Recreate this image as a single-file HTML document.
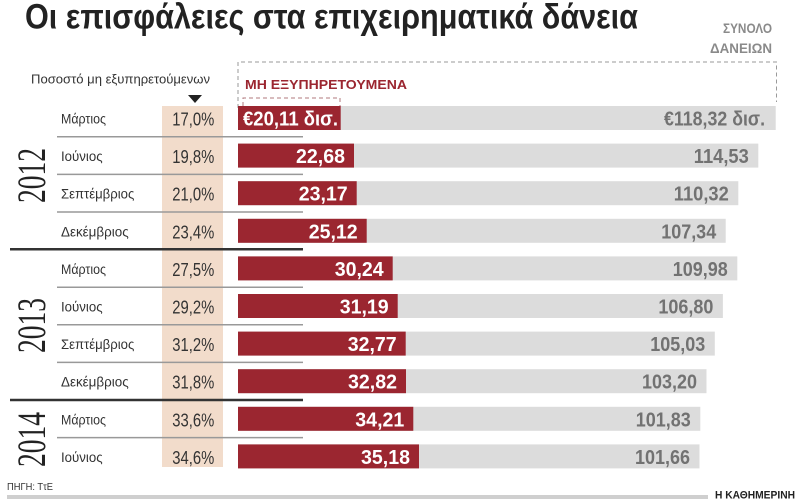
<!DOCTYPE html>
<html><head><meta charset="utf-8"><style>
html,body{margin:0;padding:0;background:#fff;}
svg{display:block;}
text{font-family:"Liberation Sans","DejaVu Sans",sans-serif;}
.m{font-size:14px;fill:#333;}
.p{font-size:18.5px;fill:#333;text-anchor:end;}
.r{font-size:20px;font-weight:bold;fill:#fff;text-anchor:end;}
.g{font-size:20px;font-weight:bold;fill:#727272;text-anchor:end;}
.y{font-family:"Liberation Serif","DejaVu Serif",serif;font-size:40px;fill:#222;text-anchor:middle;}
</style></head><body>
<svg width="800" height="499" viewBox="0 0 800 499" xmlns="http://www.w3.org/2000/svg">
<rect width="800" height="499" fill="#fff"/>
<text x="25" y="28.5" font-size="35" font-weight="bold" fill="#222" textLength="613" lengthAdjust="spacingAndGlyphs">Οι επισφάλειες στα επιχειρηματικά δάνεια</text>
<text x="772" y="33" font-size="14" font-weight="bold" fill="#8a8a8a" text-anchor="end" textLength="49" lengthAdjust="spacingAndGlyphs">ΣΥΝΟΛΟ</text>
<text x="772" y="53" font-size="14" font-weight="bold" fill="#8a8a8a" text-anchor="end" textLength="62" lengthAdjust="spacingAndGlyphs">ΔΑΝΕΙΩΝ</text>
<path d="M238,108 V62 H776.5 V102" fill="none" stroke="#9a9a9a" stroke-width="1" stroke-dasharray="4,3"/>
<path d="M243,106 V98 H340 V106" fill="none" stroke="#b07a7e" stroke-width="1" stroke-dasharray="4,3"/>
<text x="245" y="89" font-size="13" font-weight="bold" fill="#9b2630" textLength="162" lengthAdjust="spacingAndGlyphs">ΜΗ ΕΞΥΠΗΡΕΤΟΥΜΕΝΑ</text>
<text x="31" y="83.5" font-size="13" fill="#333" textLength="179" lengthAdjust="spacingAndGlyphs">Ποσοστό μη εξυπηρετούμενων</text>
<polygon points="188,95 202,95 195,103" fill="#222"/>
<rect x="162" y="106" width="61" height="361" fill="#f2dccb"/>

<g fill="#dcdcdc">
<rect x="238" y="106" width="537.7" height="24"/>
<rect x="238" y="143.6" width="520.3" height="24"/>
<rect x="238" y="181.2" width="500.3" height="24"/>
<rect x="238" y="218.8" width="487.7" height="24"/>
<rect x="238" y="256.4" width="499.3" height="24"/>
<rect x="238" y="294" width="484.9" height="24"/>
<rect x="238" y="331.6" width="476.8" height="24"/>
<rect x="238" y="369.2" width="468.5" height="24"/>
<rect x="238" y="406.8" width="462.3" height="24"/>
<rect x="238" y="444.4" width="461.5" height="24"/>
</g>
<g fill="#9b2630">
<rect x="238" y="106" width="102.7" height="24"/>
<rect x="238" y="143.6" width="116" height="24"/>
<rect x="238" y="181.2" width="118.7" height="24"/>
<rect x="238" y="218.8" width="128.7" height="24"/>
<rect x="238" y="256.4" width="154.7" height="24"/>
<rect x="238" y="294" width="159.7" height="24"/>
<rect x="238" y="331.6" width="167.7" height="24"/>
<rect x="238" y="369.2" width="168" height="24"/>
<rect x="238" y="406.8" width="175.3" height="24"/>
<rect x="238" y="444.4" width="181" height="24"/>
</g>

<g stroke="#999" stroke-width="1.5">
<line x1="57" y1="136.8" x2="303" y2="136.8"/>
<line x1="57" y1="174.4" x2="303" y2="174.4"/>
<line x1="57" y1="212" x2="303" y2="212"/>
<line x1="57" y1="287.2" x2="303" y2="287.2"/>
<line x1="57" y1="324.8" x2="303" y2="324.8"/>
<line x1="57" y1="362.4" x2="303" y2="362.4"/>
<line x1="57" y1="437.6" x2="303" y2="437.6"/>
</g>
<g stroke="#333" stroke-width="2.5">
<line x1="10" y1="249.3" x2="303" y2="249.3"/>
<line x1="10" y1="400" x2="303" y2="400"/>
</g>

<text class="m" x="61" y="123.5" textLength="45" lengthAdjust="spacingAndGlyphs">Μάρτιος</text>
<text class="m" x="61" y="161.1" textLength="41.6" lengthAdjust="spacingAndGlyphs">Ιούνιος</text>
<text class="m" x="61" y="198.7" textLength="73.3" lengthAdjust="spacingAndGlyphs">Σεπτέμβριος</text>
<text class="m" x="61" y="236.3" textLength="67.7" lengthAdjust="spacingAndGlyphs">Δεκέμβριος</text>
<text class="m" x="61" y="273.9" textLength="45" lengthAdjust="spacingAndGlyphs">Μάρτιος</text>
<text class="m" x="61" y="311.5" textLength="41.6" lengthAdjust="spacingAndGlyphs">Ιούνιος</text>
<text class="m" x="61" y="349.1" textLength="73.3" lengthAdjust="spacingAndGlyphs">Σεπτέμβριος</text>
<text class="m" x="61" y="386.7" textLength="67.7" lengthAdjust="spacingAndGlyphs">Δεκέμβριος</text>
<text class="m" x="61" y="424.3" textLength="45" lengthAdjust="spacingAndGlyphs">Μάρτιος</text>
<text class="m" x="61" y="461.9" textLength="41.6" lengthAdjust="spacingAndGlyphs">Ιούνιος</text>

<text class="p" x="214.3" y="125.5" textLength="42" lengthAdjust="spacingAndGlyphs">17,0%</text>
<text class="p" x="214.3" y="163.1" textLength="42" lengthAdjust="spacingAndGlyphs">19,8%</text>
<text class="p" x="214.3" y="200.7" textLength="42" lengthAdjust="spacingAndGlyphs">21,0%</text>
<text class="p" x="214.3" y="238.3" textLength="42" lengthAdjust="spacingAndGlyphs">23,4%</text>
<text class="p" x="214.3" y="275.9" textLength="42" lengthAdjust="spacingAndGlyphs">27,5%</text>
<text class="p" x="214.3" y="313.5" textLength="42" lengthAdjust="spacingAndGlyphs">29,2%</text>
<text class="p" x="214.3" y="351.1" textLength="42" lengthAdjust="spacingAndGlyphs">31,2%</text>
<text class="p" x="214.3" y="388.7" textLength="42" lengthAdjust="spacingAndGlyphs">31,8%</text>
<text class="p" x="214.3" y="426.3" textLength="42" lengthAdjust="spacingAndGlyphs">33,6%</text>
<text class="p" x="214.3" y="463.9" textLength="42" lengthAdjust="spacingAndGlyphs">34,6%</text>

<text class="r" x="338" y="125.5" textLength="95" lengthAdjust="spacingAndGlyphs">€20,11 δισ.</text>
<text class="r" x="345" y="163.1" textLength="49" lengthAdjust="spacingAndGlyphs">22,68</text>
<text class="r" x="347.7" y="200.7" textLength="49" lengthAdjust="spacingAndGlyphs">23,17</text>
<text class="r" x="357.7" y="238.3" textLength="49" lengthAdjust="spacingAndGlyphs">25,12</text>
<text class="r" x="383.7" y="275.9" textLength="49" lengthAdjust="spacingAndGlyphs">30,24</text>
<text class="r" x="388.7" y="313.5" textLength="49" lengthAdjust="spacingAndGlyphs">31,19</text>
<text class="r" x="396.7" y="351.1" textLength="49" lengthAdjust="spacingAndGlyphs">32,77</text>
<text class="r" x="397" y="388.7" textLength="49" lengthAdjust="spacingAndGlyphs">32,82</text>
<text class="r" x="404.3" y="426.3" textLength="49" lengthAdjust="spacingAndGlyphs">34,21</text>
<text class="r" x="410" y="463.9" textLength="49" lengthAdjust="spacingAndGlyphs">35,18</text>

<text class="g" x="765" y="125.5" textLength="101" lengthAdjust="spacingAndGlyphs">€118,32 δισ.</text>
<text class="g" x="748.8" y="163.1" textLength="55" lengthAdjust="spacingAndGlyphs">114,53</text>
<text class="g" x="728.8" y="200.7" textLength="55" lengthAdjust="spacingAndGlyphs">110,32</text>
<text class="g" x="716.2" y="238.3" textLength="55" lengthAdjust="spacingAndGlyphs">107,34</text>
<text class="g" x="727.8" y="275.9" textLength="55" lengthAdjust="spacingAndGlyphs">109,98</text>
<text class="g" x="713.4" y="313.5" textLength="55" lengthAdjust="spacingAndGlyphs">106,80</text>
<text class="g" x="705.3" y="351.1" textLength="55" lengthAdjust="spacingAndGlyphs">105,03</text>
<text class="g" x="697" y="388.7" textLength="55" lengthAdjust="spacingAndGlyphs">103,20</text>
<text class="g" x="690.8" y="426.3" textLength="55" lengthAdjust="spacingAndGlyphs">101,83</text>
<text class="g" x="690" y="463.9" textLength="55" lengthAdjust="spacingAndGlyphs">101,66</text>

<text class="y" transform="translate(45,175.5) rotate(-90)" textLength="55" lengthAdjust="spacingAndGlyphs">2012</text>
<text class="y" transform="translate(45,325.5) rotate(-90)" textLength="55" lengthAdjust="spacingAndGlyphs">2013</text>
<text class="y" transform="translate(45,439.5) rotate(-90)" textLength="55" lengthAdjust="spacingAndGlyphs">2014</text>

<text x="7" y="490" font-size="10" fill="#333" textLength="46" lengthAdjust="spacingAndGlyphs">ΠΗΓΗ: ΤτΕ</text>
<rect x="7" y="495" width="701" height="4" fill="#cfcfcf"/>
<text x="715" y="498.5" font-size="11" font-weight="bold" fill="#222" textLength="80" lengthAdjust="spacingAndGlyphs">Η ΚΑΘΗΜΕΡΙΝΗ</text>
</svg>
</body></html>
